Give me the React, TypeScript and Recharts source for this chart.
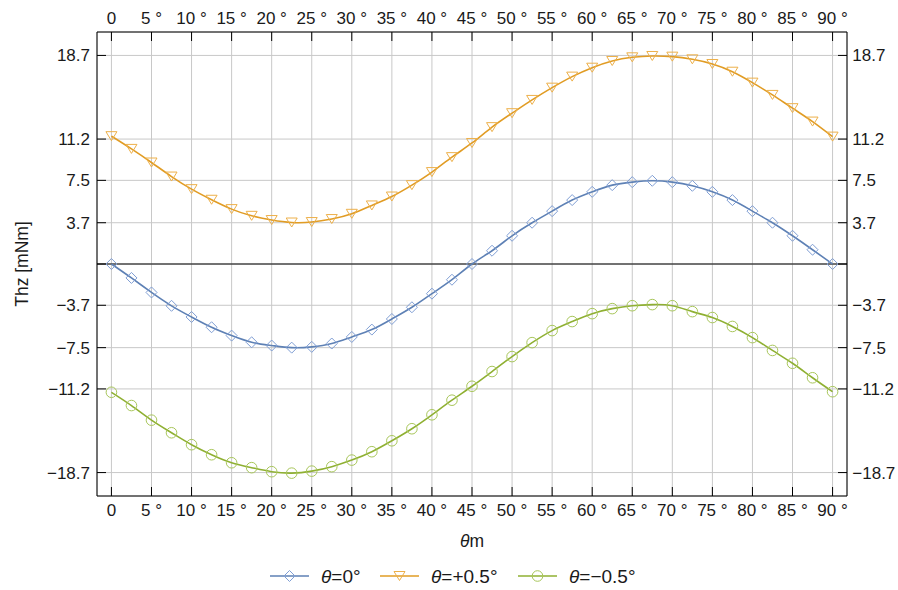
import { LineChart, Line, XAxis, YAxis, CartesianGrid, ReferenceLine } from "recharts";

// θm in degrees
const THETA_M = [
  0, 2.5, 5, 7.5, 10, 12.5, 15, 17.5, 20, 22.5, 25, 27.5, 30, 32.5, 35, 37.5, 40, 42.5,
  45, 47.5, 50, 52.5, 55, 57.5, 60, 62.5, 65, 67.5, 70, 72.5, 75, 77.5, 80, 82.5, 85, 87.5, 90,
];

// Thz [mNm] for each θ
const THZ_ZERO = [
  0, -1.25, -2.55, -3.75, -4.75, -5.67, -6.42, -7.02, -7.31, -7.5, -7.43, -7.13, -6.54, -5.88, -4.93, -3.88, -2.66, -1.41,
  0, 1.19, 2.53, 3.7, 4.74, 5.73, 6.47, 7.07, 7.34, 7.46, 7.34, 7.01, 6.47, 5.73, 4.74, 3.7, 2.53, 1.28, 0,
];
const THZ_PLUS = [
  11.46, 10.32, 9.1, 7.84, 6.71, 5.76, 4.92, 4.32, 3.94, 3.72, 3.76, 4.03, 4.5, 5.25, 6.05, 7.07, 8.24, 9.58,
  10.85, 12.27, 13.52, 14.71, 15.81, 16.8, 17.6, 18.2, 18.53, 18.65, 18.59, 18.35, 17.93, 17.24, 16.26, 15.16, 13.97, 12.77, 11.42,
];
const THZ_MINUS = [
  -11.5, -12.69, -14.0, -15.13, -16.2, -17.1, -17.82, -18.26, -18.62, -18.75, -18.57, -18.17, -17.58, -16.83, -15.85, -14.77, -13.52, -12.21,
  -10.96, -9.64, -8.3, -7.05, -5.97, -5.16, -4.45, -4.0, -3.74, -3.64, -3.74, -4.27, -4.8, -5.6, -6.6, -7.75, -8.9, -10.2, -11.45,
];

const X_TICKS = [0, 5, 10, 15, 20, 25, 30, 35, 40, 45, 50, 55, 60, 65, 70, 75, 80, 85, 90];
const Y_TICKS = [-18.7, -11.2, -7.5, -3.7, 0, 3.7, 7.5, 11.2, 18.7];

const SERIES = [
  { key: "zero", label: "=0°", color: "#5E81B5", marker: "#7F9ED4", shape: "diamond", legendX: 270 },
  { key: "plus", label: "=+0.5°", color: "#E19C24", marker: "#EDB04A", shape: "triangle", legendX: 380 },
  { key: "minus", label: "=\u22120.5°", color: "#8FB032", marker: "#A8C65A", shape: "circle", legendX: 518 },
];

const data = THETA_M.map((x, i) => ({
  x,
  zero: THZ_ZERO[i],
  plus: THZ_PLUS[i],
  minus: THZ_MINUS[i],
}));

const FONT = "'Liberation Sans', Arial, sans-serif";
const TICK_FONT = 17;
const TEXT_COLOR = "#1a1a1a";

function Marker({ cx, cy, shape, color }: any) {
  if (cx == null || cy == null) return null;
  if (shape === "diamond")
    return (
      <path
        d={`M${cx},${cy - 5.5}L${cx + 5.5},${cy}L${cx},${cy + 5.5}L${cx - 5.5},${cy}Z`}
        fill="none"
        stroke={color}
        strokeWidth={1}
      />
    );
  if (shape === "triangle")
    return (
      <path
        d={`M${cx - 5.5},${cy - 4.5}L${cx + 5.5},${cy - 4.5}L${cx},${cy + 4.5}Z`}
        fill="none"
        stroke={color}
        strokeWidth={1}
      />
    );
  return <circle cx={cx} cy={cy} r={5.3} fill="none" stroke={color} strokeWidth={1} />;
}

function fmtX(v: number) {
  return v === 0 ? "0" : `${v} °`;
}

function fmtY(v: number) {
  if (v === 0) return "";
  return v < 0 ? `\u2212${Math.abs(v)}` : `${v}`;
}

function XTick(props: any) {
  const { x, y, payload, side } = props;
  const top = side === "top";
  return (
    <g>
      <line x1={x} x2={x} y1={y} y2={top ? y + 9 : y - 9} stroke="#000" />
      <text
        x={x}
        y={top ? y - 7.7 : y + 19.9}
        textAnchor="middle"
        fontSize={TICK_FONT}
        fontFamily={FONT}
        fill={TEXT_COLOR}
      >
        {fmtX(payload.value)}
      </text>
    </g>
  );
}

function YTick(props: any) {
  const { x, y, payload, side } = props;
  const left = side === "left";
  return (
    <g>
      <line x1={x} x2={left ? x + 9 : x - 9} y1={y} y2={y} stroke="#000" />
      <text
        x={left ? x - 7 : x + 5.3}
        y={y + 6}
        textAnchor={left ? "end" : "start"}
        fontSize={TICK_FONT}
        fontFamily={FONT}
        fill={TEXT_COLOR}
      >
        {fmtY(payload.value)}
      </text>
    </g>
  );
}

export default function App() {
  return (
    <div
      style={{
        position: "absolute",
        left: 0,
        top: 0,
        width: 898,
        height: 590,
        background: "#fff",
      }}
    >
      <LineChart width={898} height={590} data={data} margin={{ top: 0, right: 0, bottom: 0, left: 0 }}>
        <CartesianGrid stroke="#c8c8c8" strokeWidth={1} />

        <XAxis
          dataKey="x"
          type="number"
          domain={[-1.8, 91.8]}
          ticks={X_TICKS}
          interval={0}
          height={94}
          tickSize={0}
          tickMargin={0}
          tickLine={false}
          axisLine={{ stroke: "#000" }}
          tick={(p: any) => <XTick {...p} side="bottom" />}
          allowDataOverflow
        />
        <XAxis
          xAxisId="top"
          orientation="top"
          dataKey="x"
          type="number"
          domain={[-1.8, 91.8]}
          ticks={X_TICKS}
          interval={0}
          height={32}
          tickSize={0}
          tickMargin={0}
          tickLine={false}
          axisLine={{ stroke: "#000" }}
          tick={(p: any) => <XTick {...p} side="top" />}
          allowDataOverflow
        />
        <YAxis
          type="number"
          domain={[-20.8, 20.8]}
          ticks={Y_TICKS}
          interval={0}
          width={97}
          tickSize={0}
          tickMargin={0}
          tickLine={false}
          axisLine={{ stroke: "#000" }}
          tick={(p: any) => <YTick {...p} side="left" />}
          allowDataOverflow
        />
        <YAxis
          yAxisId="right"
          orientation="right"
          type="number"
          domain={[-20.8, 20.8]}
          ticks={Y_TICKS}
          interval={0}
          width={51}
          tickSize={0}
          tickMargin={0}
          tickLine={false}
          axisLine={{ stroke: "#000" }}
          tick={(p: any) => <YTick {...p} side="right" />}
          allowDataOverflow
        />

        <ReferenceLine y={0} stroke="#000" strokeWidth={1} />

        {SERIES.map((s) => (
          <Line
            key={s.key}
            dataKey={s.key}
            type="natural"
            stroke={s.color}
            strokeWidth={1.6}
            isAnimationActive={false}
            dot={(p: any) => <Marker key={`${s.key}-${p.index}`} cx={p.cx} cy={p.cy} shape={s.shape} color={s.marker} />}
            activeDot={false}
          />
        ))}
      </LineChart>

      {/* axis labels and legend */}
      <svg
        width={898}
        height={590}
        style={{ position: "absolute", left: 0, top: 0, pointerEvents: "none" }}
        fontFamily={FONT}
        fill={TEXT_COLOR}
      >
        <text x={22} y={264} transform="rotate(-90 22 264)" textAnchor="middle" dominantBaseline="central" fontSize={17.5}>
          Thz [mNm]
        </text>
        <text x={472} y={547} textAnchor="middle" fontSize={17.5}>
          <tspan fontStyle="italic">θ</tspan>m
        </text>

        {SERIES.map((s) => (
          <g key={s.key}>
            <line x1={s.legendX} x2={s.legendX + 39} y1={576} y2={576} stroke={s.color} strokeWidth={1.6} />
            <Marker cx={s.legendX + 19.5} cy={576} shape={s.shape} color={s.marker} />
            <text x={s.legendX + 51} y={582.8} fontSize={19}>
              <tspan fontStyle="italic">θ</tspan>
              {s.label}
            </text>
          </g>
        ))}
      </svg>
    </div>
  );
}
